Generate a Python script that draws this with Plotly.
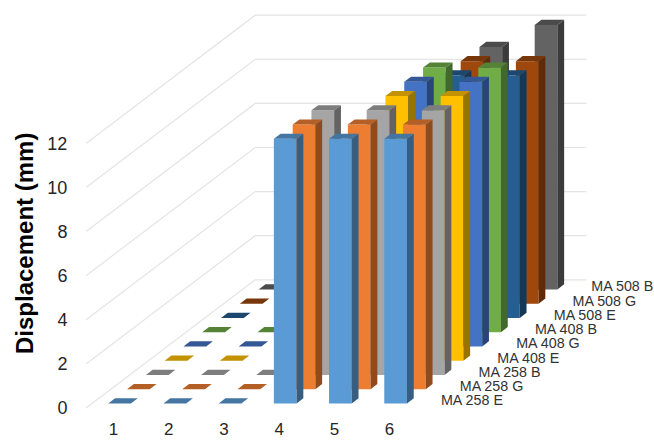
import plotly.graph_objects as go

categories = [1, 2, 3, 4, 5, 6]
series_names = ["MA 258 E", "MA 258 G", "MA 258 B", "MA 408 E", "MA 408 G",
                "MA 408 B", "MA 508 E", "MA 508 G", "MA 508 B"]
ma258e = [0, 0, 0, 12, 12, 12]
ma258g = [0, 0, 0, 12, 12, 12]
ma258b = [0, 0, 0, 12, 12, 12]
ma408e = [0, 0, 0, 0, 12, 12]
ma408g = [0, 0, 0, 0, 12, 12]
ma408b = [0, 0, 0, 0, 12, 12]
ma508e = [0, 0, 0, 0, 11, 11]
ma508g = [0, 0, 0, 0, 11, 11]
ma508b = [0, 0, 0, 0, 11, 12]
series_values = [ma258e, ma258g, ma258b, ma408e, ma408g, ma408b, ma508e, ma508g, ma508b]
base_colors = ["#5B9BD5", "#ED7D31", "#A5A5A5", "#FFC000", "#4472C4",
               "#70AD47", "#255E91", "#9E480E", "#636363"]
y_ticks = [0, 2, 4, 6, 8, 10, 12]

# Oblique projection: each step back in depth shifts a point right and up.
DX = 0.3406      # category units per series
DY = 0.646       # displacement units per series
HALF_W = 0.2056  # half bar width in category units
D_FRONT, D_BACK = 0.32, 0.68
X_LEFT, X_RIGHT = 0.5, 6.5
PX_X, PX_Y = 55.2, 22.05
W, H = 654, 440
ML, MB = 86, 32


def shade(hex_color, k):
    r, g, b = (int(hex_color[i:i + 2], 16) for i in (1, 3, 5))
    return f"rgb({round(r * k)},{round(g * k)},{round(b * k)})"


def project(x, v, depth):
    return x + depth * DX, v + depth * DY


def poly(points):
    xs, ys = zip(*points)
    return list(xs) + [xs[0], None], list(ys) + [ys[0], None]


fig = go.Figure()

# Walls and floor gridlines run forward-left to back-left, then along the back.
n_series = len(series_names)
gx, gy = [], []
for t in y_ticks:
    for x, depth in ((X_LEFT, 0), (X_LEFT, n_series), (X_RIGHT, n_series)):
        px, py = project(x, t, depth)
        gx.append(px)
        gy.append(py)
    gx.append(None)
    gy.append(None)
fig.add_trace(go.Scatter(x=gx, y=gy, mode="lines", hoverinfo="skip", cliponaxis=False,
                         line=dict(color="#E4E4E4", width=1.2)))

# Bars are painted from the back series to the front one.
for s in reversed(range(n_series)):
    values = series_values[s]
    color = base_colors[s]
    front, side, top = ([], []), ([], []), ([], [])
    for c, v in zip(categories, values):
        xl, xr = c - HALF_W, c + HALF_W
        df, db = s + D_FRONT, s + D_BACK
        faces = (
            (front, [project(xl, 0, df), project(xr, 0, df), project(xr, v, df), project(xl, v, df)]),
            (side, [project(xr, 0, df), project(xr, 0, db), project(xr, v, db), project(xr, v, df)]),
            (top, [project(xl, v, df), project(xr, v, df), project(xr, v, db), project(xl, v, db)]),
        )
        for bucket, pts in faces:
            px, py = poly(pts)
            bucket[0].extend(px)
            bucket[1].extend(py)
    for bucket, k in ((front, 1.0), (side, 0.6), (top, 0.76)):
        fig.add_trace(go.Scatter(x=bucket[0], y=bucket[1], mode="lines", fill="toself",
                                 fillcolor=shade(color, k), line=dict(width=0),
                                 name=series_names[s], hoverinfo="name"))

# Depth axis labels follow the right edge of the floor.
fig.add_trace(go.Scatter(
    x=[6.93 + s * DX for s in range(n_series)],
    y=[0.286 + s * DY for s in range(n_series)],
    mode="text", text=series_names, textposition="middle right",
    textfont=dict(size=14.3, color="#333333"), cliponaxis=False, hoverinfo="skip"))

fig.add_annotation(text="<b>Displacement (mm)</b>", textangle=-90, showarrow=False,
                   xref="paper", yref="paper", xanchor="center", yanchor="middle",
                   x=(24 - ML) / (W - ML), y=(H - MB - 244) / (H - MB),
                   font=dict(size=24, color="#000000"))

fig.update_layout(
    width=W, height=H, margin=dict(l=ML, r=0, t=0, b=MB, autoexpand=False),
    autosize=False, showlegend=False,
    paper_bgcolor="white", plot_bgcolor="white",
    font=dict(family="Liberation Sans, Arial, sans-serif", color="#262626"),
    xaxis=dict(range=[X_LEFT, X_LEFT + (W - ML) / PX_X], tickvals=categories,
               ticktext=[str(c) for c in categories], tickfont=dict(size=17),
               showgrid=False, zeroline=False, showline=False, automargin=False,
               ticks="outside", ticklen=6, tickcolor="rgba(0,0,0,0)"),
    yaxis=dict(range=[0, (H - MB) / PX_Y], tickvals=y_ticks, tickfont=dict(size=18),
               showgrid=False, zeroline=False, showline=False, automargin=False,
               ticks="outside", ticklen=14, tickcolor="rgba(0,0,0,0)"),
)

fig.write_html("out.html")
